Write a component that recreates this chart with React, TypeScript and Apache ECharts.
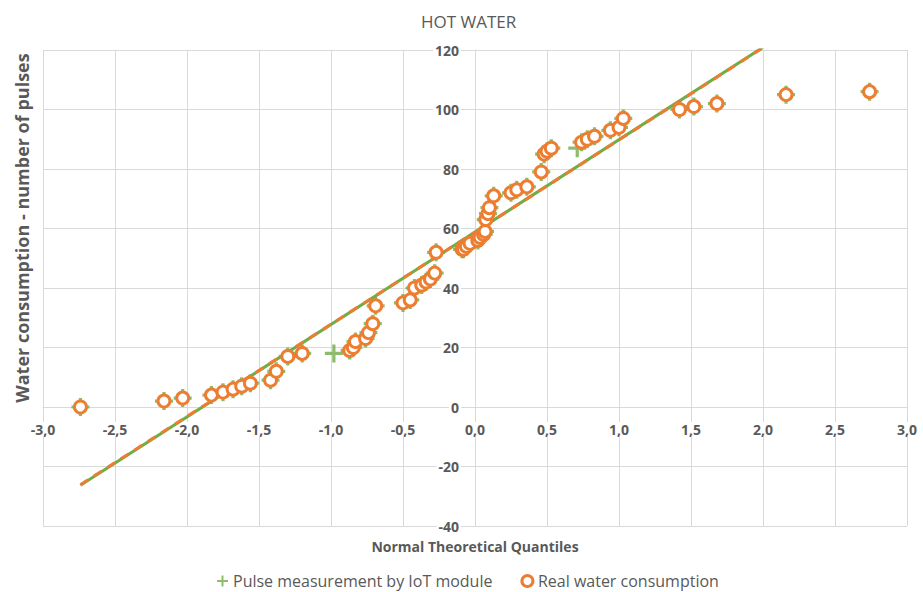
import React, { useEffect, useRef } from "react";
import * as echarts from "echarts";

// Normal theoretical quantiles (x) and sorted consumption values (y)
const realQuantiles = [
  -2.74, -2.16, -2.03, -1.83, -1.75, -1.68, -1.62, -1.56, -1.42, -1.38, -1.3, -1.2,
  -0.87, -0.845, -0.83, -0.76, -0.74, -0.71, -0.69, -0.5, -0.45, -0.42, -0.37, -0.34,
  -0.31, -0.28, -0.27, -0.09, -0.08, -0.06, -0.035, 0.02, 0.035, 0.06, 0.07, 0.075,
  0.09, 0.1, 0.13, 0.25, 0.29, 0.36, 0.46, 0.48, 0.5, 0.53, 0.74, 0.78, 0.83, 0.94,
  1.0, 1.03, 1.42, 1.52, 1.68, 2.16, 2.74,
];
const realValues = [
  0, 2, 3, 4, 5, 6, 7, 8, 9, 12, 17, 18,
  19, 20, 22, 23, 25, 28, 34, 35, 36, 40, 41, 42,
  43, 45, 52, 53, 53, 54, 55, 56, 57, 58, 59, 63,
  65, 67, 71, 72, 73, 74, 79, 85, 86, 87, 89, 90, 91, 93,
  94, 97, 100, 101, 102, 105, 106,
];
const pulseQuantiles = [
  -2.74, -2.16, -2.03, -1.83, -1.75, -1.68, -1.62, -1.56, -1.42, -1.38, -1.3, -1.2,
  -0.98, -0.87, -0.845, -0.83, -0.76, -0.74, -0.71, -0.69, -0.5, -0.45, -0.42, -0.37,
  -0.34, -0.31, -0.28, -0.27, -0.09, -0.08, -0.06, -0.035, 0.02, 0.035, 0.06, 0.07,
  0.075, 0.09, 0.1, 0.13, 0.25, 0.29, 0.36, 0.46, 0.48, 0.5, 0.53, 0.71, 0.74, 0.78,
  0.83, 0.94, 1.0, 1.03, 1.42, 1.52, 1.68, 2.16, 2.74,
];
const pulseValues = [
  0, 2, 3, 4, 5, 6, 7, 8, 9, 12, 17, 18,
  18, 19, 20, 22, 23, 25, 28, 34, 35, 36, 40, 41,
  42, 43, 45, 52, 53, 53, 54, 55, 56, 57, 58, 59,
  63, 65, 67, 71, 72, 73, 74, 79, 85, 86, 87, 87, 89, 90,
  91, 93, 94, 97, 100, 101, 102, 105, 106,
];
// Linear trend lines (end points)
const trendQuantiles = [-2.74, 2.74];
const trendPulse = [-26.3, 143.9];
const trendReal = [-26.1, 143.7];

const xTicks = { min: -3, max: 3, step: 0.5 };
const yTicks = { min: -40, max: 120, step: 20 };

const GREEN = "#70AD47";
const ORANGE = "#ED7D31";
const TEXT = "#595959";
const GRID = "#d9d9d9";
const FONT = "'Open Sans', sans-serif";
const PLUS = "path://M0,8.2H8.2V0H11.8V8.2H20V11.8H11.8V20H8.2V11.8H0Z";

// plot box in pixels
const G = { left: 43, right: 16, top: 50, bottom: 66, width: 923, height: 592 };
const plotW = G.width - G.left - G.right;
const plotH = G.height - G.top - G.bottom;

const zip = (a: number[], b: number[]) => a.map((v, i) => [v, b[i]]);

export default function App() {
  const ref = useRef<HTMLDivElement>(null);
  useEffect(() => {
    if (!ref.current) return;
    const chart = echarts.init(ref.current, undefined, { renderer: "svg" });
    const labelStyle = {
      color: TEXT,
      fontFamily: FONT,
      fontWeight: "bold" as const,
      fontSize: 14,
      lineHeight: 15,
      backgroundColor: "#fff",
      padding: [0, 2],
    };
    // offsets that put each axis where the other axis is zero
    const xOffset = -plotH * (0 - yTicks.min) / (yTicks.max - yTicks.min);
    const yOffset = -plotW * (0 - xTicks.min) / (xTicks.max - xTicks.min);
    chart.setOption({
      animation: false,
      backgroundColor: "#fff",
      title: {
        text: "HOT WATER",
        left: 416,
        top: 8,
        textStyle: { color: TEXT, fontFamily: FONT, fontSize: 17, fontWeight: "normal" },
      },
      grid: { left: G.left, right: G.right, top: G.top, bottom: G.bottom, containLabel: false },
      legend: {
        left: 212,
        top: 568,
        itemGap: 28,
        itemWidth: 11,
        itemHeight: 11,
        textStyle: { color: TEXT, fontFamily: FONT, fontSize: 16 },
        data: [
          { name: "Pulse measurement by IoT module", icon: PLUS, itemStyle: { color: GREEN } },
          {
            name: "Real water consumption",
            icon: "circle",
            itemStyle: { color: "#fff", borderColor: ORANGE, borderWidth: 3 },
          },
        ],
      },
      xAxis: {
        type: "value",
        position: "bottom",
        offset: xOffset,
        min: xTicks.min,
        max: xTicks.max,
        interval: xTicks.step,
        axisLine: { onZero: false, lineStyle: { color: GRID } },
        axisTick: { show: false },
        splitLine: { lineStyle: { color: GRID, width: 1 } },
        axisLabel: {
          ...labelStyle,
          margin: 15,
          formatter: (v: number) => v.toFixed(1).replace(".", ","),
        },
      },
      yAxis: {
        type: "value",
        position: "left",
        offset: yOffset,
        min: yTicks.min,
        max: yTicks.max,
        interval: yTicks.step,
        axisLine: { show: true, onZero: false, lineStyle: { color: GRID } },
        axisTick: { show: false },
        splitLine: { lineStyle: { color: GRID, width: 1 } },
        axisLabel: { ...labelStyle, margin: 14 },
      },
      graphic: [
        {
          type: "text",
          x: 22,
          y: 228,
          rotation: Math.PI / 2,
          style: {
            text: "Water consumption - number of pulses",
            fill: TEXT,
            font: `bold 18px ${FONT}`,
            textAlign: "center",
            textVerticalAlign: "middle",
            align: "center",
            verticalAlign: "middle",
          },
        },
        {
          type: "text",
          x: 475,
          y: 546,
          style: {
            text: "Normal Theoretical Quantiles",
            fill: TEXT,
            font: `bold 14px ${FONT}`,
            textAlign: "center",
            textVerticalAlign: "middle",
            align: "center",
            verticalAlign: "middle",
          },
        },
      ],
      series: [
        {
          name: "Pulse trend",
          type: "line",
          data: zip(trendQuantiles, trendPulse),
          showSymbol: false,
          clip: true,
          lineStyle: { color: GREEN, width: 3 },
          z: 1,
        },
        {
          name: "Real trend",
          type: "line",
          data: zip(trendQuantiles, trendReal),
          showSymbol: false,
          clip: true,
          lineStyle: { color: ORANGE, width: 3, type: [9, 7] },
          z: 2,
        },
        {
          name: "Pulse measurement by IoT module",
          type: "scatter",
          data: zip(pulseQuantiles, pulseValues),
          symbol: PLUS,
          symbolSize: 18,
          itemStyle: { color: GREEN },
          z: 3,
        },
        {
          name: "Real water consumption",
          type: "scatter",
          data: zip(realQuantiles, realValues),
          symbol: "circle",
          symbolSize: 12,
          itemStyle: { color: "#fff", borderColor: ORANGE, borderWidth: 3, opacity: 1 },
          z: 4,
        },
      ],
    });
    return () => chart.dispose();
  }, []);
  return <div ref={ref} style={{ width: 923, height: 592, position: "absolute", left: 0, top: 0 }} />;
}
